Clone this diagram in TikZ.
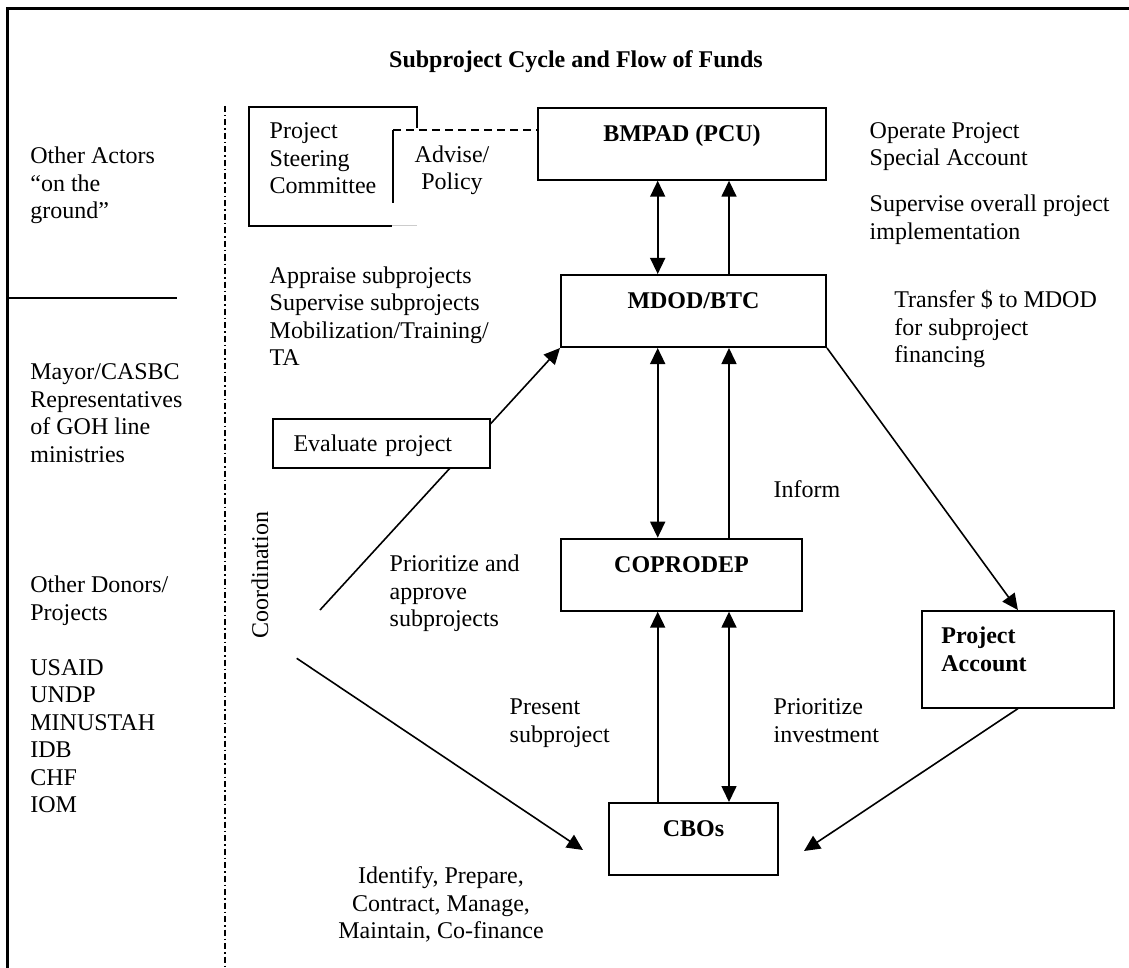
\documentclass[tikz,border=0pt]{standalone}
\usepackage{fontspec}
\setmainfont{Liberation Serif}
\usetikzlibrary{arrows.meta}

\tikzset{
  blk/.style={draw, line width=1pt, inner sep=0pt, anchor=north west,
    font=\fontsize{12}{13.75}\selectfont\bfseries, text height=16.75pt, text depth=19.25pt},
  txt/.style={anchor=north west, inner sep=0pt, align=left},
  arr/.style={line width=0.8pt, -{Triangle[length=8pt,width=7.5pt]}},
  dblarr/.style={line width=0.8pt, {Triangle[length=8pt,width=7.5pt]}-{Triangle[length=8pt,width=7.5pt]}},
}

\begin{document}
\begin{tikzpicture}[x=0.5pt,y=-0.5pt, every node/.style={font=\fontsize{12}{13.75}\selectfont}]
  \useasboundingbox (0,0) rectangle (1129,968);

  %frame and left column
  \draw[line width=1.5pt] (7,968) -- (7,8.5) -- (1129,8.5);
  \draw[line width=1pt] (7,298.3) -- (177,298.3);
  \draw[line width=1pt, dash pattern=on 3pt off 1.5pt on 0.75pt off 1.5pt] (225.3,106) -- (225.3,968);

  \node[font=\fontsize{12}{14}\selectfont\bfseries, anchor=base] (title) at (576,68) {Subproject Cycle and Flow of Funds};

  \node[txt] (actors) at (30,146.5) {Other Actors\\“on the\\ground”};
  \node[txt] (mayor) at (30,363.5) {Mayor/CASBC\\Representatives\\of GOH line\\ministries};
  \node[txt] (donors) at (30,575.5) {Other Donors/\\Projects\\[13.75pt]USAID\\UNDP\\MINUSTAH\\IDB\\CHF\\IOM};

  %steering committee
  \draw[line width=1pt] (417,128) -- (417,106.7) -- (248.7,106.7) -- (248.7,225.7) -- (392,225.7);
  \draw[gray!40, line width=0.6pt] (392,225.7) -- (417,225.7);
  \coordinate (advtop) at (393,130);
  \draw[line width=1pt] (advtop) -- (393,203);
  \node[txt] (psc) at (269.3,122.5) {Project\\Steering\\Committee};
  \node[anchor=north, inner sep=0pt, align=center] (advise) at (452,145.2) {Advise/\\Policy};

  %main boxes
  \node[blk, minimum width=144pt] (bmpad) at (537,106.7) {BMPAD (PCU)};
  \node[blk, minimum width=132.5pt] (mdod) at (560,274) {MDOD/BTC};
  \node[blk, minimum width=120.5pt] (coprodep) at (560,537.7) {COPRODEP};
  \node[blk, minimum width=84.5pt] (cbos) at (608,802) {CBOs};
  \node[draw, line width=1pt, anchor=north west, minimum width=96.2pt, minimum height=48.3pt] (pacc) at (920.7,610) {};
  \node[txt, font=\fontsize{12}{13.75}\selectfont\bfseries] (pacctext) at (941,626.5) {Project\\Account};

  \draw[dashed, dash pattern=on 4pt off 2.5pt, line width=0.8pt] (advtop) -- (advtop -| bmpad.west);

  %vertical flows
  \coordinate (laneA) at (657.7,0);
  \coordinate (laneB) at (729,0);
  \draw[dblarr] (bmpad.south -| laneA) -- (mdod.north -| laneA);
  \draw[arr] (mdod.north -| laneB) -- (bmpad.south -| laneB);
  \draw[dblarr] (mdod.south -| laneA) -- (coprodep.north -| laneA);
  \draw[arr] (coprodep.north -| laneB) -- (mdod.south -| laneB);
  \draw[arr] (cbos.north -| laneA) -- (coprodep.south -| laneA);
  \draw[dblarr] (coprodep.south -| laneB) -- (cbos.north -| laneB);

  %funds
  \draw[arr] (mdod.south east) -- (pacc.north);
  \draw[arr] (pacc.south) -- ([shift={(12.5pt,-6pt)}]cbos.east);

  %coordination
  \coordinate (evalfoot) at (320,610);
  \coordinate (coordfoot) at (296.7,658.3);
  \draw[arr] (evalfoot) -- (mdod.south west);
  \draw[arr] (coordfoot) -- ([shift={(-12.5pt,-5.5pt)}]cbos.west);
  \node[draw, line width=1pt, fill=white, anchor=north west, text width=88pt, align=left,
    inner xsep=10.25pt, inner ysep=0pt, text height=16pt, text depth=8.5pt] (evalp) at (272,418) {Evaluate project};
  \node[rotate=90, inner sep=0pt] (coord) at (260,575) {Coordination};

  %labels
  \node[txt] (operate) at (869.3,121.8) {Operate Project\\Special Account};
  \node[txt] (supervise) at (869.3,194.5) {Supervise overall project\\implementation};
  \node[txt] (transfer) at (894,290.2) {Transfer \$ to MDOD\\for subproject\\financing};
  \node[txt] (appraise) at (269.3,266.2) {Appraise subprojects\\Supervise subprojects\\Mobilization/Training/\\TA};
  \node[txt] (approve) at (389.3,554.5) {Prioritize and\\approve\\subprojects};
  \node[txt] (inform) at (773.3,480.5) {Inform};
  \node[txt] (present) at (509.3,698.5) {Present\\subproject};
  \node[txt] (invest) at (773.3,698.5) {Prioritize\\investment};
  \node[anchor=north, inner sep=0pt, align=center] (identify) at (441,866.5) {Identify, Prepare,\\Contract, Manage,\\Maintain, Co-finance};
\end{tikzpicture}
\end{document}
